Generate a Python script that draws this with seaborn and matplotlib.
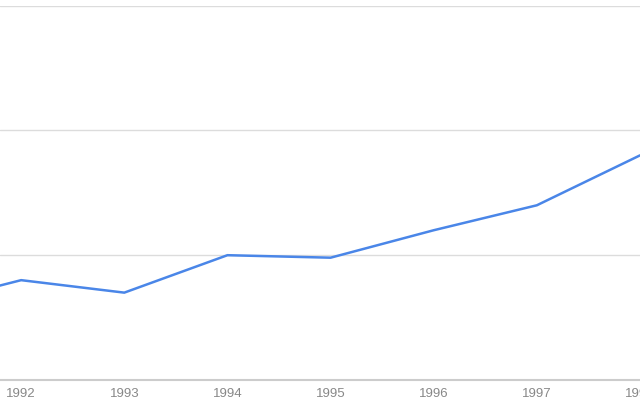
import pandas as pd
import matplotlib
matplotlib.use("Agg")
import matplotlib.pyplot as plt
import seaborn as sns

# valores
years = [1991, 1992, 1993, 1994, 1995, 1996, 1997, 1998]
values = [59, 80, 70, 100, 98, 120, 140, 180]

df = pd.DataFrame({"year": years, "value": values})

sns.set_style("white")
plt.rcParams['font.family'] = ['Liberation Sans', 'DejaVu Sans']

fig = plt.figure(figsize=(6.4, 4.0), dpi=100)
ax = fig.add_axes([0, 0.05, 1, 0.936])

sns.lineplot(x="year", y="value", data=df, ax=ax, color="#4a86e8", linewidth=1.8)

ax.set_xlim(1991.795, 1997.985)
ax.set_ylim(0, 300)

ax.set_yticks([0, 100, 200, 300])
ax.yaxis.grid(True, color="#dcdcdc", linewidth=1)
ax.set_yticklabels([])
ax.tick_params(axis="y", length=0)

ax.set_xticks([1992, 1993, 1994, 1995, 1996, 1997, 1998])
ax.set_xticklabels(["1992", "1993", "1994", "1995", "1996", "1997", "1998"])
ax.tick_params(axis="x", length=4, color="#cccccc", labelcolor="#888888",
               labelsize=9.5, pad=2)

for side in ["top", "left", "right"]:
    ax.spines[side].set_visible(False)
ax.spines["bottom"].set_color("#cccccc")
ax.spines["bottom"].set_linewidth(1.5)

ax.set_xlabel("")
ax.set_ylabel("")

plt.savefig("out.png", dpi=100)
